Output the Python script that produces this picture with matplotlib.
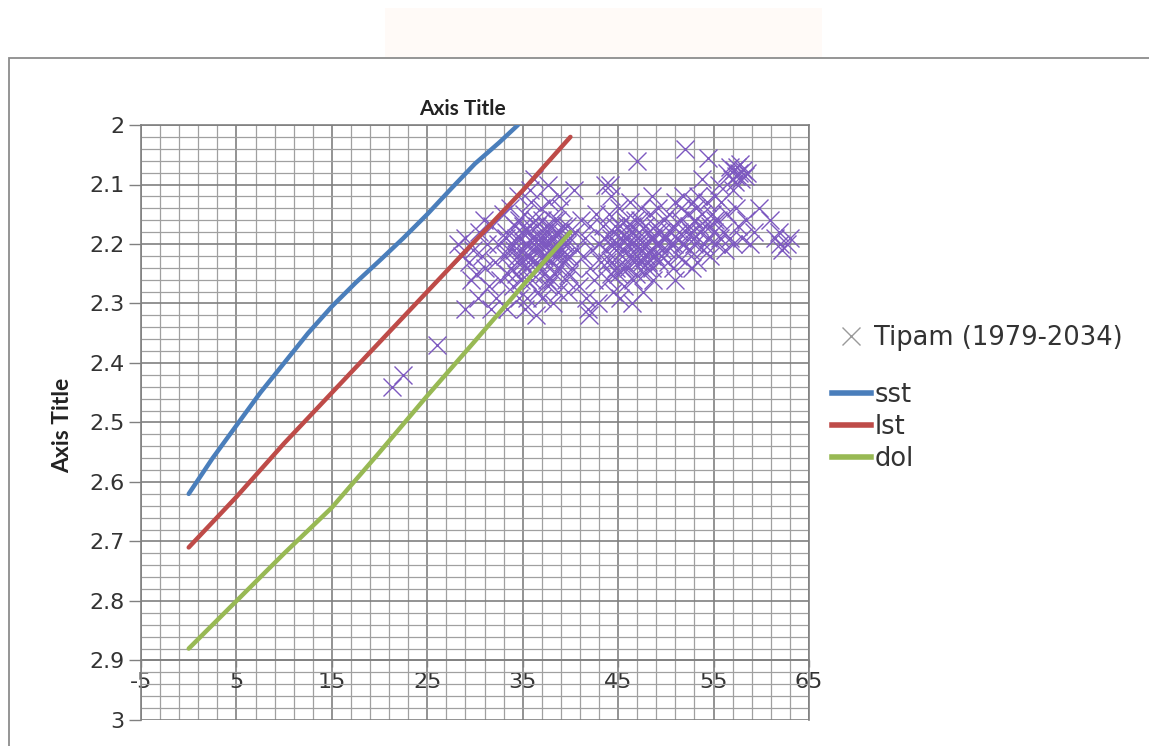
import matplotlib.pyplot as plt
from matplotlib.lines import Line2D
from matplotlib.patches import Rectangle
import numpy as np

plt.rcParams['font.family'] = ['DejaVu Sans']

# axis ticks
x_ticks = [-5, 5, 15, 25, 35, 45, 55, 65]
x_ticklabels = ['-5', '5', '15', '25', '35', '45', '55', '65']
y_ticks = [2.0, 2.1, 2.2, 2.3, 2.4, 2.5, 2.6, 2.7, 2.8, 2.9, 3.0]
y_ticklabels = ['2', '2.1', '2.2', '2.3', '2.4', '2.5', '2.6', '2.7', '2.8', '2.9', '3']

# reference curves
sst_x = [0, 2.5, 5, 7.5, 10, 12.5, 15, 17.5, 20, 22.5, 25, 27.5, 30, 32.5, 34.5]
sst_y = [2.62, 2.56, 2.505, 2.45, 2.40, 2.35, 2.305, 2.265, 2.228, 2.19, 2.15, 2.107, 2.065,
         2.03, 2.0]
lst_x = [0, 5, 10, 15, 20, 25, 30, 35, 40]
lst_y = [2.71, 2.625, 2.535, 2.45, 2.365, 2.28, 2.195, 2.11, 2.02]
dol_x = [0, 5, 10, 15, 20, 25, 30, 35, 40]
dol_y = [2.88, 2.80, 2.72, 2.643, 2.55, 2.455, 2.363, 2.27, 2.18]

# Tipam samples (x, y)
tipam_points = [
    (21.3, 2.44), (22.5, 2.42), (26.0, 2.37),
    (28.2, 2.20), (28.6, 2.22), (29.0, 2.19), (29.4, 2.23), (29.8, 2.21), (30.1, 2.25),
    (30.4, 2.18), (30.7, 2.22), (31.0, 2.24), (31.3, 2.20), (31.5, 2.27), (31.8, 2.17),
    (32.1, 2.23), (32.4, 2.20), (32.6, 2.26), (32.9, 2.15), (28.9, 2.31), (31.7, 2.31),
    (33.4, 2.31), (30.3, 2.29), (29.6, 2.26), (32.2, 2.29), (30.9, 2.16),
    (33.1, 2.22), (33.3, 2.18), (33.5, 2.25), (33.7, 2.14), (33.9, 2.20), (34.0, 2.27),
    (34.2, 2.17), (34.4, 2.23), (34.5, 2.12), (34.7, 2.19), (34.8, 2.26), (35.0, 2.21),
    (35.1, 2.15), (35.3, 2.24), (35.4, 2.29), (35.6, 2.18), (35.7, 2.22), (35.9, 2.13),
    (36.0, 2.26), (36.2, 2.20), (36.3, 2.16), (36.5, 2.23), (36.6, 2.28), (36.8, 2.19),
    (36.9, 2.14), (37.1, 2.22), (37.2, 2.25), (37.4, 2.17), (37.5, 2.20), (37.7, 2.27),
    (37.8, 2.13), (38.0, 2.23), (38.1, 2.19), (38.3, 2.16), (38.4, 2.25), (38.6, 2.21),
    (38.7, 2.28), (38.9, 2.18), (39.0, 2.14), (39.2, 2.23), (39.3, 2.20), (39.5, 2.26),
    (39.6, 2.17), (39.8, 2.22), (40.0, 2.19), (34.1, 2.21), (34.9, 2.18), (35.5, 2.20),
    (36.1, 2.23), (36.7, 2.21), (37.3, 2.19), (37.9, 2.21), (38.5, 2.18), (39.1, 2.21),
    (35.2, 2.31), (36.4, 2.32), (38.2, 2.30), (34.6, 2.29), (37.0, 2.29), (35.8, 2.11),
    (37.6, 2.10), (38.8, 2.12), (36.2, 2.09), (39.7, 2.28),
    (33.2, 2.19), (33.6, 2.21), (33.8, 2.24), (34.3, 2.19), (34.3, 2.25), (34.6, 2.16),
    (34.9, 2.23), (35.0, 2.17), (35.2, 2.20), (35.4, 2.26), (35.6, 2.23), (35.8, 2.17),
    (36.0, 2.19), (36.1, 2.25), (36.3, 2.21), (36.5, 2.17), (36.6, 2.20), (36.8, 2.24),
    (37.0, 2.16), (37.1, 2.20), (37.3, 2.23), (37.5, 2.26), (37.6, 2.18), (37.8, 2.20),
    (38.0, 2.17), (38.1, 2.26), (38.3, 2.22), (38.4, 2.20), (38.6, 2.16), (38.8, 2.24),
    (39.0, 2.19), (39.2, 2.17), (39.4, 2.22), (39.6, 2.20), (39.8, 2.25), (35.3, 2.22),
    (36.4, 2.19), (37.4, 2.22), (38.9, 2.22), (34.5, 2.22),
    (40.2, 2.24), (40.4, 2.11), (40.5, 2.18), (40.7, 2.21), (40.9, 2.27), (41.1, 2.16),
    (41.3, 2.22), (41.5, 2.19), (41.6, 2.29), (41.8, 2.31), (42.0, 2.24), (42.1, 2.17),
    (42.3, 2.21), (42.5, 2.26), (42.7, 2.15), (42.9, 2.30), (43.0, 2.20), (41.9, 2.32),
    (43.2, 2.23), (43.4, 2.17), (43.6, 2.10), (43.7, 2.21), (43.9, 2.26), (44.0, 2.15),
    (44.1, 2.10), (44.2, 2.19), (44.4, 2.23), (44.5, 2.28), (44.7, 2.17), (44.8, 2.21),
    (45.0, 2.25), (45.1, 2.14), (45.3, 2.19), (45.4, 2.22), (45.6, 2.27), (45.7, 2.16),
    (45.9, 2.20), (46.0, 2.24), (46.2, 2.13), (46.3, 2.18), (46.5, 2.22), (46.6, 2.26),
    (46.8, 2.16), (46.9, 2.20), (47.1, 2.23), (47.2, 2.18), (47.4, 2.14), (47.5, 2.21),
    (47.7, 2.25), (47.8, 2.17), (48.0, 2.20), (48.1, 2.23), (48.3, 2.15), (48.4, 2.19),
    (48.6, 2.22), (48.7, 2.26), (48.9, 2.17), (49.0, 2.20), (49.2, 2.14), (49.3, 2.23),
    (49.5, 2.18), (49.6, 2.21), (49.8, 2.16), (45.2, 2.29), (46.4, 2.30), (47.6, 2.28),
    (44.3, 2.12), (48.5, 2.12), (47.0, 2.06), (45.8, 2.19), (47.3, 2.20), (44.6, 2.20),
    (43.5, 2.19), (43.8, 2.23), (44.1, 2.20), (44.3, 2.25), (44.5, 2.18), (44.8, 2.24),
    (45.0, 2.20), (45.2, 2.17), (45.5, 2.21), (45.7, 2.24), (45.9, 2.17), (46.1, 2.22),
    (46.3, 2.20), (46.5, 2.17), (46.7, 2.23), (46.9, 2.25), (47.1, 2.19), (47.3, 2.16),
    (47.5, 2.23), (47.7, 2.20), (47.9, 2.22), (48.1, 2.18), (48.3, 2.21), (48.5, 2.24),
    (48.7, 2.19), (48.9, 2.22), (49.1, 2.18), (49.3, 2.20), (49.5, 2.22), (49.7, 2.19),
    (46.0, 2.19), (47.0, 2.22), (48.0, 2.24), (45.4, 2.24),
    (50.0, 2.19), (50.2, 2.23), (50.3, 2.15), (50.5, 2.20), (50.7, 2.17), (50.8, 2.24),
    (51.0, 2.13), (51.2, 2.19), (51.3, 2.22), (51.5, 2.16), (51.7, 2.20), (51.8, 2.12),
    (52.0, 2.23), (52.1, 2.18), (52.3, 2.15), (52.5, 2.21), (52.6, 2.18), (52.8, 2.13),
    (53.0, 2.20), (53.1, 2.16), (53.3, 2.23), (53.4, 2.12), (53.6, 2.18), (53.8, 2.15),
    (53.9, 2.21), (54.1, 2.17), (54.3, 2.13), (54.4, 2.19), (54.6, 2.22), (54.8, 2.15),
    (55.0, 2.18), (55.1, 2.12), (55.3, 2.20), (55.5, 2.16), (55.6, 2.10), (55.8, 2.13),
    (56.0, 2.18), (56.2, 2.21), (56.4, 2.15), (56.7, 2.19), (52.0, 2.04), (54.4, 2.055),
    (53.8, 2.09), (51.0, 2.26), (52.7, 2.24),
    (50.1, 2.21), (50.4, 2.18), (50.9, 2.20), (51.4, 2.18), (51.9, 2.20), (52.4, 2.17),
    (52.9, 2.19), (53.5, 2.17), (54.0, 2.20), (54.6, 2.17), (55.2, 2.16), (55.7, 2.19),
    (53.2, 2.14), (51.6, 2.14),
    (56.4, 2.08), (56.7, 2.07), (56.9, 2.09), (57.1, 2.075), (57.3, 2.085), (57.5, 2.07),
    (57.7, 2.08), (57.9, 2.09), (58.1, 2.075), (58.3, 2.085), (57.2, 2.095), (57.8, 2.065),
    (57.0, 2.11), (58.5, 2.08),
    (57.3, 2.14), (57.6, 2.17), (58.0, 2.19), (58.4, 2.16), (58.8, 2.20), (59.2, 2.18),
    (59.8, 2.14), (60.9, 2.16), (61.4, 2.19), (61.9, 2.18), (62.2, 2.21), (62.7, 2.20),
    (63.0, 2.19), (62.0, 2.20), (57.0, 2.20),
]
tipam_x = [p[0] for p in tipam_points]
tipam_y = [p[1] for p in tipam_points]

purple = '#7D59C0'
blue = '#4A7EBB'
red = '#BE4B48'
green = '#98B954'

W, H = 1149, 746
fig = plt.figure(figsize=(W / 100, H / 100), dpi=100)

# chart frame and faint banner at the top
fig.patches.append(Rectangle((385 / W, 1 - 57 / H), 437 / W, 49 / H, transform=fig.transFigure,
                             facecolor='#fffaf7', edgecolor='none', zorder=0))
fig.patches.append(Rectangle((9 / W, -0.1), 1.2, 1.1 - 58 / H, transform=fig.transFigure,
                             fill=False, edgecolor='#8c8c8c', linewidth=1.3, zorder=1))

ax = fig.add_axes([141 / W, 1 - 720 / H, (809 - 141) / W, (720 - 125) / H])
ax.set_facecolor('white')

ax.plot(tipam_x, tipam_y, ls='none', marker='x', markersize=12.5, markeredgewidth=1.0,
        color=purple, label='Tipam (1979-2034)', zorder=3)
ax.plot(sst_x, sst_y, color=blue, lw=3.2, solid_capstyle='round', label='sst', zorder=4)
ax.plot(lst_x, lst_y, color=red, lw=3.2, solid_capstyle='round', label='lst', zorder=4)
ax.plot(dol_x, dol_y, color=green, lw=3.2, solid_capstyle='round', label='dol', zorder=4)

ax.set_xlim(-5, 65)
ax.set_ylim(3.0, 2.0)

ax.set_xticks(x_ticks)
ax.set_xticklabels(x_ticklabels)
ax.set_xticks(np.arange(-5, 66, 2), minor=True)
ax.set_yticks(y_ticks)
ax.set_yticklabels(y_ticklabels)
ax.set_yticks(np.arange(2.0, 3.001, 0.02), minor=True)

ax.set_axisbelow(True)
ax.grid(which='major', color='#808080', linewidth=1.2)
ax.grid(which='minor', color='#a0a0a0', linewidth=0.9)

for side in ['top', 'right', 'left']:
    ax.spines[side].set_color('#808080')
    ax.spines[side].set_linewidth(1.2)
ax.spines['bottom'].set_position(('data', 2.9))
ax.spines['bottom'].set_color('#808080')
ax.spines['bottom'].set_linewidth(1.2)

ax.tick_params(axis='both', which='minor', length=0)
ax.tick_params(axis='y', which='major', direction='out', length=9, width=1.0,
               color='#808080', labelsize=16, labelcolor='#333333', pad=3)
ax.tick_params(axis='x', which='major', direction='out', length=5, width=1.0,
               color='#808080', labelsize=16, labelcolor='#333333', pad=3)

fig.text(462 / W, 1 - 109 / H, 'Axis Title', ha='center', va='center',
         fontsize=15, fontweight='bold', color='#222222', family=['Lato', 'DejaVu Sans'])
fig.text(63 / W, 1 - 425 / H, 'Axis Title', ha='center', va='center', rotation=90,
         fontsize=16.5, fontweight='bold', color='#222222', family=['Lato', 'DejaVu Sans'])

# legend: scatter entry on its own, the three curves beneath it
marker_handle = Line2D([], [], ls='none', marker='x', markersize=12.5, markeredgewidth=1.0,
                       color='#9a9a9a')
line_handles = [Line2D([], [], color=c, lw=4.0) for c in (blue, red, green)]
leg_style = dict(frameon=False, fontsize=18.5, handlelength=1.5, handletextpad=0.15,
                 borderpad=0, borderaxespad=0, labelcolor='#333333')
fig.legend([marker_handle], ['Tipam (1979-2034)'], loc='center left',
           bbox_to_anchor=(832 / W, 1 - 338 / H), **leg_style)
fig.legend(line_handles, ['sst', 'lst', 'dol'], loc='center left',
           bbox_to_anchor=(832 / W, 1 - 427 / H), labelspacing=0.22, **leg_style)

fig.savefig('out.png', dpi=100)
